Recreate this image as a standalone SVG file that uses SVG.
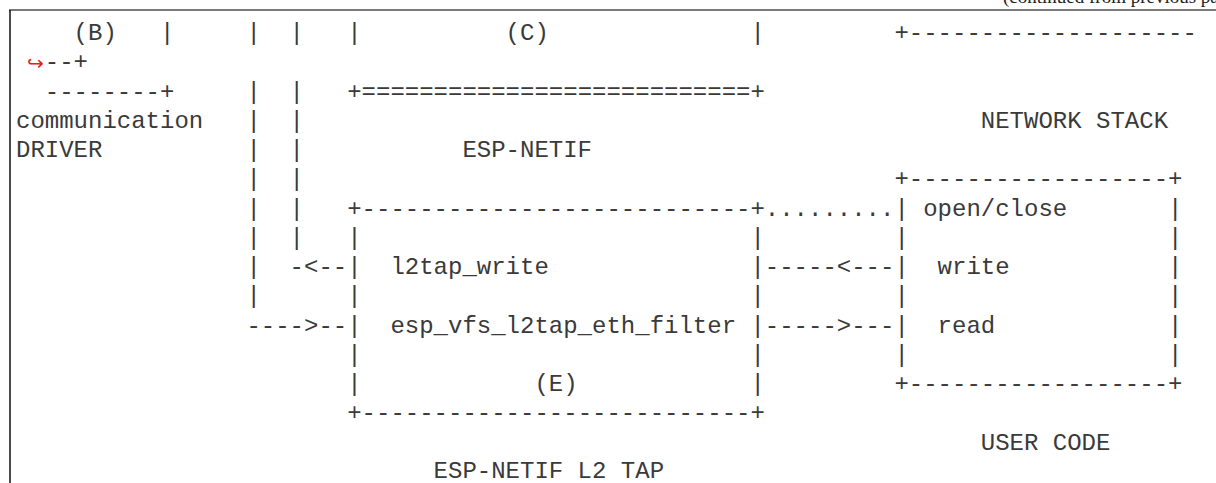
<svg xmlns="http://www.w3.org/2000/svg" width="1216" height="483" viewBox="0 0 1216 483">
<style>
.t{font-family:"Liberation Mono","Courier New",monospace;font-size:24px;fill:#3a3a3a;white-space:pre}
.cont{font-family:"Liberation Serif","Times New Roman",serif;font-size:19px;fill:#222}
.wrap{font-family:"DejaVu Sans",sans-serif;font-size:20px;fill:#e02020}
</style>
<rect x="0" y="0" width="1216" height="483" fill="#fff"/>
<g id="page-frame">
<text class="cont" x="1003" y="3">(continued from previous page)</text>
<line x1="9" y1="10" x2="1216" y2="10" stroke="#7a7a7a" stroke-width="2"/>
<line x1="10" y1="10" x2="10" y2="483" stroke="#111" stroke-width="1.5"/>
</g>
<g id="node-communication-driver">
<text class="t" x="73.6" y="40">(B)</text>
<text class="t" x="44.8" y="98.5">--------+</text>
<text class="t" x="16" y="127.75">communication</text>
<text class="t" x="16" y="157">DRIVER</text>
</g>
<g id="node-esp-netif">
<text class="t" x="347.2" y="40">|</text>
<text class="t" x="505.6" y="40">(C)</text>
<text class="t" x="750.4" y="40">|</text>
<text class="t" x="347.2" y="98.5">+===========================+</text>
<text class="t" x="462.4" y="157">ESP-NETIF</text>
</g>
<g id="node-network-stack">
<text class="t" x="894.4" y="40">+--------------------</text>
<text class="wrap" x="27" y="70">↪</text>
<text class="t" x="44.8" y="69.25">--+</text>
<text class="t" x="980.8" y="127.75">NETWORK STACK</text>
</g>
<g id="node-l2tap">
<text class="t" x="347.2" y="215.5">+---------------------------+</text>
<text class="t" x="347.2" y="244.75">|</text>
<text class="t" x="750.4" y="244.75">|</text>
<text class="t" x="347.2" y="274">|</text>
<text class="t" x="390.4" y="274">l2tap_write</text>
<text class="t" x="750.4" y="274">|</text>
<text class="t" x="347.2" y="303.25">|</text>
<text class="t" x="750.4" y="303.25">|</text>
<text class="t" x="347.2" y="332.5">|</text>
<text class="t" x="390.4" y="332.5">esp_vfs_l2tap_eth_filter</text>
<text class="t" x="750.4" y="332.5">|</text>
<text class="t" x="347.2" y="361.75">|</text>
<text class="t" x="750.4" y="361.75">|</text>
<text class="t" x="347.2" y="391">|</text>
<text class="t" x="534.4" y="391">(E)</text>
<text class="t" x="750.4" y="391">|</text>
<text class="t" x="347.2" y="420.25">+---------------------------+</text>
<text class="t" x="433.6" y="477.5">ESP-NETIF L2 TAP</text>
</g>
<g id="node-user-code">
<text class="t" x="894.4" y="186.25">+------------------+</text>
<text class="t" x="894.4" y="215.5">|</text>
<text class="t" x="923.2" y="215.5">open/close</text>
<text class="t" x="1168" y="215.5">|</text>
<text class="t" x="894.4" y="244.75">|</text>
<text class="t" x="1168" y="244.75">|</text>
<text class="t" x="894.4" y="274">|</text>
<text class="t" x="937.6" y="274">write</text>
<text class="t" x="1168" y="274">|</text>
<text class="t" x="894.4" y="303.25">|</text>
<text class="t" x="1168" y="303.25">|</text>
<text class="t" x="894.4" y="332.5">|</text>
<text class="t" x="937.6" y="332.5">read</text>
<text class="t" x="1168" y="332.5">|</text>
<text class="t" x="894.4" y="361.75">|</text>
<text class="t" x="1168" y="361.75">|</text>
<text class="t" x="894.4" y="391">+------------------+</text>
<text class="t" x="980.8" y="449.5">USER CODE</text>
</g>
<g id="connectors">
<text class="t" x="160" y="40">|</text>
<text class="t" x="246.4" y="40">|</text>
<text class="t" x="289.6" y="40">|</text>
<text class="t" x="246.4" y="98.5">|</text>
<text class="t" x="289.6" y="98.5">|</text>
<text class="t" x="246.4" y="127.75">|</text>
<text class="t" x="289.6" y="127.75">|</text>
<text class="t" x="246.4" y="157">|</text>
<text class="t" x="289.6" y="157">|</text>
<text class="t" x="246.4" y="186.25">|</text>
<text class="t" x="289.6" y="186.25">|</text>
<text class="t" x="246.4" y="215.5">|</text>
<text class="t" x="289.6" y="215.5">|</text>
<text class="t" x="246.4" y="244.75">|</text>
<text class="t" x="289.6" y="244.75">|</text>
<text class="t" x="246.4" y="274">|</text>
<text class="t" x="289.6" y="274">-&lt;--</text>
<text class="t" x="246.4" y="303.25">|</text>
<text class="t" x="246.4" y="332.5">----&gt;--</text>
<text class="t" x="764.8" y="215.5">.........</text>
<text class="t" x="764.8" y="274">-----&lt;---</text>
<text class="t" x="764.8" y="332.5">-----&gt;---</text>
</g>
</svg>
